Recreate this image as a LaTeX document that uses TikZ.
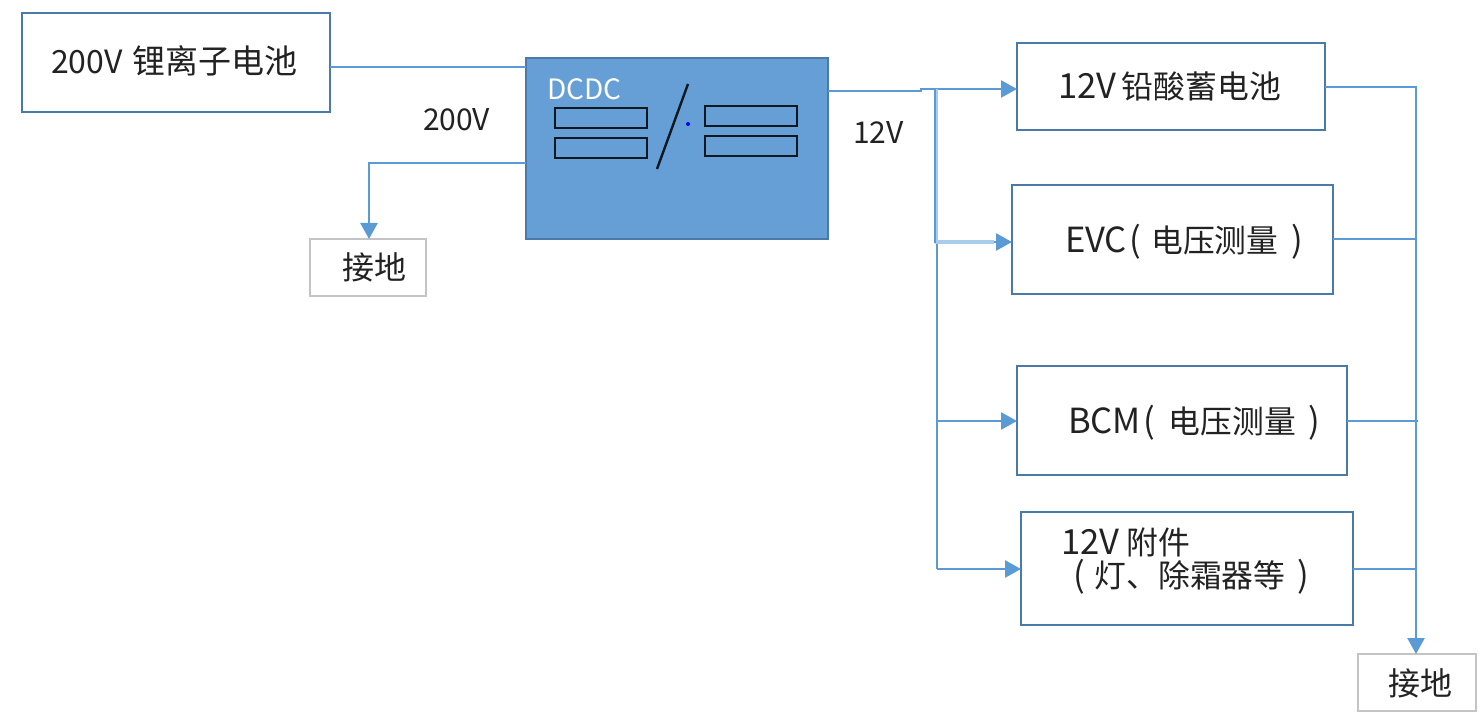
\documentclass[tikz,border=0pt]{standalone}
\usepackage{fontspec}
\setmainfont{Noto Sans CJK SC}
\usetikzlibrary{arrows.meta}
\definecolor{wire}{HTML}{5B9BD5}
\definecolor{wirelight}{HTML}{A9CCEA}
\definecolor{edgeblue}{HTML}{4A7BA8}
\definecolor{fillblue}{HTML}{659FD6}
\definecolor{gndedge}{HTML}{C4C4C4}
\definecolor{ink}{HTML}{222222}
\newcommand{\zh}[1]{{\fontsize{16.5}{20}\selectfont #1}}
\newcommand{\zhs}[1]{{\fontsize{15.9}{20}\selectfont #1}}
\newcommand{\latn}[1]{{\fontsize{17.3}{20}\selectfont #1}}
\tikzset{
  x=0.5pt,y=-0.5pt,
  every node/.style={inner sep=0pt,outer sep=0pt,text=ink},
  blockbox/.style={draw=edgeblue,line width=1pt,fill=white},
  gndbox/.style={draw=gndedge,line width=1.1pt,fill=white},
  smallrect/.style={draw=black!85!fillblue,line width=1.2pt},
  lbl/.style={font=\fontsize{16}{20}\selectfont,anchor=west},
  small/.style={font=\fontsize{15}{18}\selectfont},
  wireline/.style={draw=wire,line width=1.3pt},
  arrowline/.style={wireline,-{Triangle[length=8pt,width=8.5pt]}},
}
\begin{document}
\begin{tikzpicture}
\useasboundingbox (0,0) rectangle (1481,716);
% boxes
\node[blockbox,anchor=north west,minimum width=154pt,minimum height=49.5pt] (batt) at (22,13) {};
\node[blockbox,fill=fillblue,anchor=north west,minimum width=151pt,minimum height=90.5pt] (dcdc) at (526,58) {};
\node[gndbox,anchor=north west,minimum width=58pt,minimum height=28.5pt] (gndA) at (310,239) {};
\node[blockbox,anchor=north west,minimum width=154pt,minimum height=43.5pt] (lead) at (1017,43) {};
\node[blockbox,anchor=north west,minimum width=160.5pt,minimum height=54.5pt] (evc) at (1012,185) {};
\node[blockbox,anchor=north west,minimum width=165pt,minimum height=54.5pt] (bcm) at (1017,366) {};
\node[blockbox,anchor=north west,minimum width=166pt,minimum height=56.5pt] (acc) at (1021,512) {};
\node[gndbox,anchor=north west,minimum width=59pt,minimum height=28.5pt] (gndB) at (1358,654) {};
% inner dcdc parts
\node[smallrect,anchor=north west,minimum width=46pt,minimum height=10pt] (la) at (555,108) {};
\node[smallrect,anchor=north west,minimum width=46pt,minimum height=10pt] (lb) at (555,138) {};
\node[smallrect,anchor=north west,minimum width=46pt,minimum height=10pt] (ra) at (705,106) {};
\node[smallrect,anchor=north west,minimum width=46pt,minimum height=10pt] (rb) at (705,136) {};
\coordinate (slashtop) at (688,84);
\coordinate (slashbot) at (657,169);
\draw[black!85!fillblue,line width=1.2pt] (slashtop) -- (slashbot);
\fill[blue] (688,124) circle (2);
% wires
\coordinate (battout) at (batt.east |- 0,67);
\coordinate (dcin) at (dcdc.west |- 0,67);
\draw[wireline] (battout) -- (dcin);
\coordinate (dcgnd) at (dcdc.west |- 0,163);
\coordinate (gndAtop) at (369,239);
\draw[arrowline] (dcgnd) -- (369,163) -- (gndAtop);
\coordinate (dcout) at (dcdc.east |- 0,91);
\coordinate (leadin) at (lead.west |- 0,89);
\draw[arrowline] (dcout) -- (921,91) -- (921,89) -- (leadin);
\coordinate (busa) at (934.8,89);
\coordinate (busb) at (934.8,243);
\coordinate (busc) at (937,242);
\coordinate (busd) at (937,569);
\coordinate (evcmid) at (994,242);
\coordinate (evcin) at (evc.west |- 0,242);
\coordinate (bcmin) at (bcm.west |- 0,421);
\coordinate (accin) at (acc.west |- 0,569);
\coordinate (bcmbus) at (937,421);
\draw[wireline] (busc) -- (busd);
\draw[wirelight,line width=0.7pt] (936.8,89) -- (936.8,242);
\draw[wirelight,line width=1.9pt] (busb |- evcin) -- (evcmid);
\draw[wire,line width=1.25pt] (busa) -- (busb);
\draw[arrowline] (evcmid) -- (evcin);
\draw[arrowline] (bcmbus) -- (bcmin);
\draw[arrowline] (busd) -- (accin);
\coordinate (leadout) at (lead.east |- 0,87);
\coordinate (gndBtop) at (1416,654);
\draw[arrowline] (leadout) -- (1416,87) -- (gndBtop);
\draw[wireline] (evc.east |- 0,239) -- (1416,239);
\draw[wireline] (bcm.east |- 0,421) -- (1418,421);
\draw[wireline] (acc.east |- 0,569) -- (1416,569);
% labels
\node[lbl] (tbatt) at (51,61) {200V\hspace{5pt}\zh{锂离子电池}};
\node[small,anchor=west,font=\fontsize{14}{16}\selectfont,text=white] (tdcdc) at (547,89) {DCDC};
\node[small,anchor=west] (t200) at (423,120) {200V};
\node[small,anchor=west] (t12) at (853,133) {12V};
\node[lbl] (tgA) at (342,267) {接地};
\node[lbl] (tgB) at (1388,683) {接地};
\node[lbl] (tlead) at (1058,86) {\latn{12V}\hspace{2.8pt}\zhs{铅酸蓄电池}};
\node[lbl] (tevc) at (1065,242) {\latn{EVC}\hspace{1.5pt}\latn{(}\hspace{4.8pt}\zhs{电压测量}\hspace{6.5pt}\latn{)}};
\node[lbl] (tbcm) at (1068,423) {\latn{BCM}\hspace{1.5pt}\latn{(}\hspace{6.5pt}\zhs{电压测量}\hspace{6.5pt}\latn{)}};
\node[lbl] (tacca) at (1061,542) {\latn{12V}\hspace{3.5pt}\zhs{附件}};
\node[lbl] (taccb) at (1073,577) {\latn{(}\hspace{5pt}\zhs{灯、除霜器等}\hspace{6pt}\latn{)}};
\end{tikzpicture}
\end{document}
